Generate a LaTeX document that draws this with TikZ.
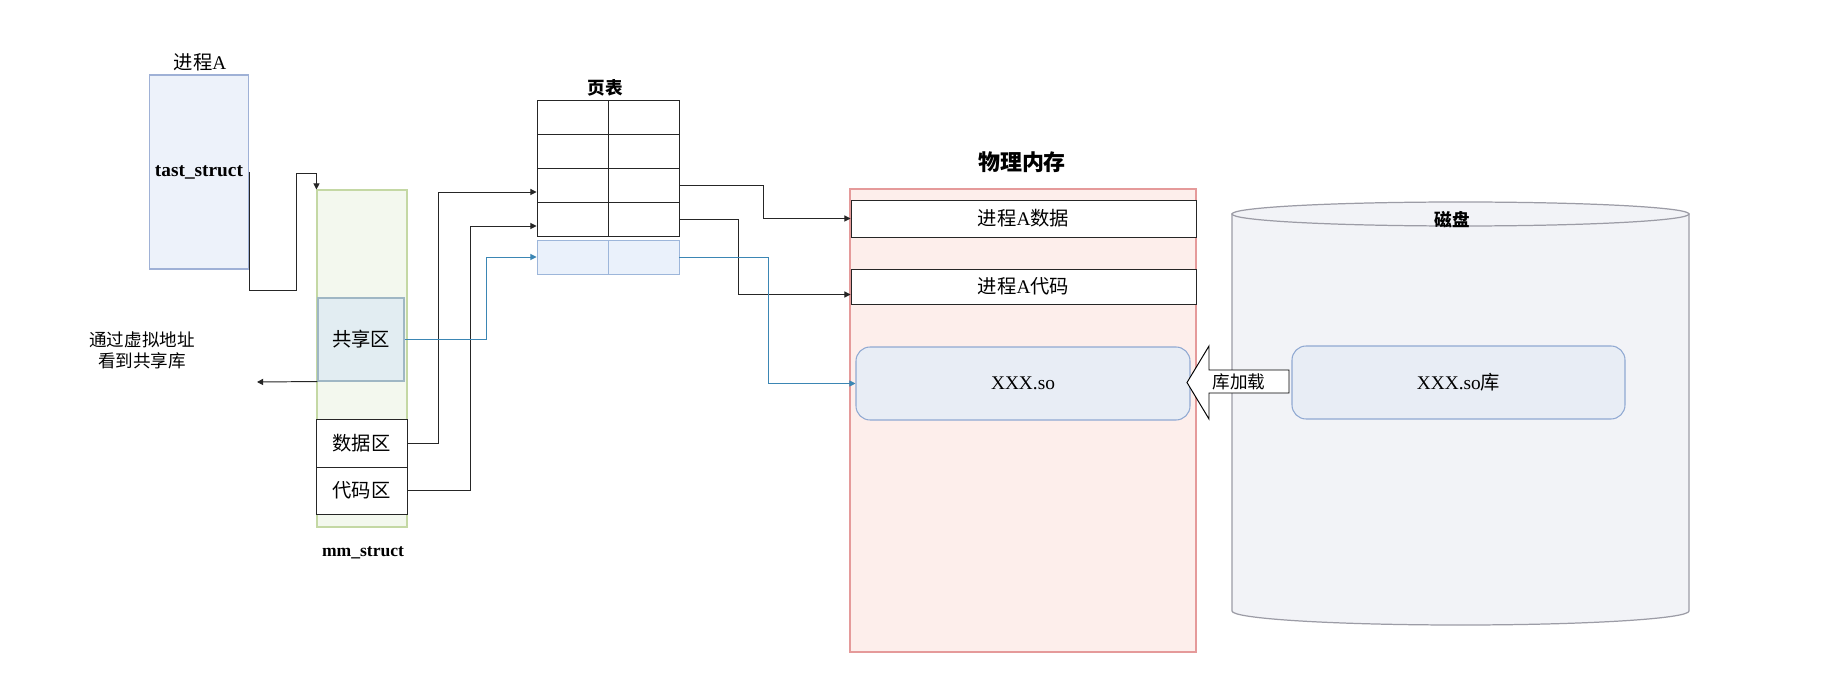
\documentclass[tikz,border=0pt]{standalone}
\usepackage{fontspec}
\setmainfont{Liberation Serif}
\newfontfamily\cjk{Noto Sans CJK SC}
\usetikzlibrary{arrows.meta,calc}

\definecolor{taskfill}{HTML}{EDF2FA}
\definecolor{taskdraw}{HTML}{9FB1D6}
\definecolor{mmfill}{HTML}{F3F8EE}
\definecolor{mmdraw}{HTML}{C4D8A4}
\definecolor{sharefill}{HTML}{E2EDF2}
\definecolor{sharedraw}{HTML}{9FB7C4}
\definecolor{memfill}{HTML}{FDEEEB}
\definecolor{memdraw}{HTML}{E59A9A}
\definecolor{sofill}{HTML}{E8EDF5}
\definecolor{sodraw}{HTML}{90A9D2}
\definecolor{diskfill}{HTML}{F2F3F7}
\definecolor{diskdraw}{HTML}{9C9CA6}
\definecolor{rowfill}{HTML}{EAF1FB}
\definecolor{rowdraw}{HTML}{9DB6DA}
\definecolor{lineblue}{HTML}{3B86B4}

\tikzset{
  arr/.style={-{Triangle[length=3.5pt,width=3.5pt]}, line width=0.55pt, color=black!85},
  bluearr/.style={arr, color=lineblue},
  plainbox/.style={draw=black!85, line width=0.55pt, fill=white, inner sep=0pt},
  cell/.style={plainbox, minimum width=71*\pxlen, minimum height=34*\pxlen},
  bluecell/.style={cell, draw=rowdraw, fill=rowfill},
  titletext/.style={font=\cjk\bfseries}
}

\begin{document}
\begin{tikzpicture}[x=0.02cm, y=-0.02cm, font=\fontsize{11}{13.7}\selectfont]
\pgfmathsetlengthmacro\pxlen{0.02cm};
\useasboundingbox[fill=white] (0,0) rectangle (1843,689);

% process A
\node (taskname) at (200,62) {{\cjk 进程}A};
\node[draw=taskdraw, fill=taskfill, line width=0.6pt, minimum width=96*\pxlen, minimum height=194*\pxlen] (task) at (199,172) {\textbf{tast\_struct}};

% mm_struct
\node[draw=mmdraw, fill=mmfill, line width=0.6pt, minimum width=90*\pxlen, minimum height=337*\pxlen] (mm) at (362,358.5) {};
\node[font=\bfseries] (mmname) at (363,553) {mm\_struct};
\node[draw=sharedraw, fill=sharefill, line width=0.6pt, minimum width=86*\pxlen, minimum height=83*\pxlen] (share) at (361,339.5) {\cjk 共享区};
\node[plainbox, minimum width=91*\pxlen, minimum height=48*\pxlen] (data) at (361.5,443) {\cjk 数据区};
\node[plainbox, minimum width=91*\pxlen, minimum height=47*\pxlen] (code) at (361.5,490.5) {\cjk 代码区};
\node[font=\cjk, align=center] (seelib) at (142,350) {通过虚拟地址\\看到共享库};
\coordinate (seeend) at (257,382);

\draw[arr] (task.east) -- ++(0,118) -- ++(47,0) -- ++(0,-117) -| (mm.north west);
\draw[arr] (share.south west) -- (seeend);

% page table
\foreach \r in {1,...,4}
  \foreach \c in {1,2}
    \node[cell] (pt\r\c) at (501.5+71*\c,83+34*\r) {};
\node[bluecell] (pt51) at (572.5,257) {};
\node[bluecell] (pt52) at (643.5,257) {};
\node[titletext] (ptname) at (605,88) {页表};

\draw[arr] (data.east) -- ++(31,0) |- ($(pt31.west)+(0,7)$);
\draw[arr] (code.east) -- ++(63,0) |- ($(pt41.west)+(0,7)$);
\draw[bluearr] (share.east) -- ++(82,0) |- (pt51.west);

% physical memory
\node[draw=memdraw, fill=memfill, line width=0.6pt, minimum width=346*\pxlen, minimum height=463*\pxlen] (mem) at (1023,420.5) {};
\node[titletext, font=\cjk\bfseries\fontsize{12.5}{15}\selectfont] (memname) at (1022,162) {物理内存};
\node[plainbox, minimum width=345*\pxlen, minimum height=37*\pxlen] (procdata) at (1023.5,218.5) {{\cjk 进程}A{\cjk 数据}};
\node[plainbox, minimum width=345*\pxlen, minimum height=35*\pxlen] (proccode) at (1023.5,286.5) {{\cjk 进程}A{\cjk 代码}};
\node[draw=sodraw, fill=sofill, line width=0.6pt, rounded corners=8pt, minimum width=334*\pxlen, minimum height=73*\pxlen] (so) at (1023,383.5) {XXX.so};

\draw[arr] (pt32.east) -- ++(84,0) |- (procdata.west);
\draw[arr] (pt42.east) -- ++(59,0) |- ($(proccode.west)+(0,8)$);
\draw[bluearr] (pt52.east) -- ++(89,0) |- (so.west);

% disk
\draw[draw=diskdraw, fill=diskfill, line width=0.7pt] (1232,214) -- (1232,611) arc[start angle=180, end angle=0, x radius=228.5, y radius=14] -- (1689,214) -- cycle;
\draw[draw=diskdraw, fill=diskfill, line width=0.7pt] (1460.5,214) ellipse [x radius=228.5, y radius=12];
\node[titletext] (diskname) at (1452,220) {磁盘};
\node[draw=sodraw, fill=sofill, line width=0.6pt, rounded corners=8pt, minimum width=333*\pxlen, minimum height=73*\pxlen] (lib) at (1458.5,382.5) {XXX.so{\cjk 库}};

% library load
\draw[line width=0.55pt, fill=white] (1289,370) -- (1209,370) -- (1209,346) -- (1187,382.5) -- (1209,419) -- (1209,393) -- (1289,393) -- cycle;
\node[font=\cjk] (loadtxt) at (1239,382) {库加载};
\end{tikzpicture}
\end{document}
